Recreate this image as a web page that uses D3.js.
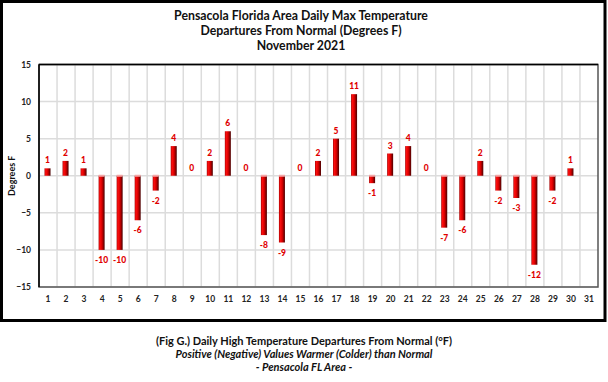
<!DOCTYPE html>
<html>
<head>
<meta charset="utf-8">
<script src="https://cdn.jsdelivr.net/npm/d3@7"></script>
<style>
  body { margin: 0; background: #fff; }
  svg { display: block; font-family: Lato, "Open Sans", sans-serif; }
</style>
</head>
<body>
<svg id="chart" width="608" height="382"></svg>
<script>
// days of November 2021 (31 slots on the axis, day 31 empty)
const days = d3.range(1, 32).map(String);
// departures from normal, degrees F
const departures = [1, 2, 1, -10, -10, -6, -2, 4, 0, 2, 6, 0, -8, -9, 0, 2, 5, 11, -1, 3, 4, 0, -7, -6, 2, -2, -3, -12, -2, 1, null];
const yTicks = [15, 10, 5, 0, -5, -10, -15];
const titleLines = ["Pensacola Florida Area Daily Max Temperature", "Departures From Normal (Degrees F)", "November 2021"];
const captionLines = ["(Fig G.) Daily High Temperature Departures From Normal (°F)", "Positive (Negative) Values Warmer (Colder) than Normal", "- Pensacola FL Area -"];

const svg = d3.select("#chart");
const plot = { left: 39, right: 598, top: 64.5, bottom: 287 };

// 外框
svg.append("rect")
    .attr("x", 1.5).attr("y", 1.5)
    .attr("width", 603.5).attr("height", 319)
    .attr("fill", "none").attr("stroke", "#000").attr("stroke-width", 3);

// 标题
svg.append("g").selectAll("text")
    .data(titleLines)
    .join("text")
    .attr("x", 301).attr("y", (d, i) => 19.5 + i * 15)
    .attr("text-anchor", "middle")
    .attr("font-size", "12.3px").attr("font-weight", "bold")
    .attr("fill", "#111")
    .text(d => d);

const x = d3.scaleBand().domain(days).range([plot.left, plot.right]);
const y = d3.scaleLinear().domain([-15, 15]).range([plot.bottom, plot.top]);

// 网格线
svg.append("g").selectAll("line.v")
    .data(days.slice(1))
    .join("line")
    .attr("x1", d => x(d)).attr("x2", d => x(d))
    .attr("y1", plot.top).attr("y2", plot.bottom)
    .attr("stroke", "#dcdcdc").attr("stroke-width", 1.5);

svg.append("g").selectAll("line.h")
    .data(yTicks)
    .join("line")
    .attr("x1", plot.left).attr("x2", plot.right)
    .attr("y1", d => y(d)).attr("y2", d => y(d))
    .attr("stroke", "#dcdcdc").attr("stroke-width", 1.5);

// plot border
svg.append("rect")
    .attr("x", plot.left).attr("y", plot.top)
    .attr("width", plot.right - plot.left).attr("height", plot.bottom - plot.top)
    .attr("fill", "none").attr("stroke", "#555").attr("stroke-width", 1.5);
svg.append("line")
    .attr("x1", plot.left).attr("x2", plot.left)
    .attr("y1", plot.top).attr("y2", plot.bottom)
    .attr("stroke", "#000").attr("stroke-width", 1.5);
svg.append("line")
    .attr("x1", plot.left).attr("x2", plot.right)
    .attr("y1", plot.top).attr("y2", plot.top)
    .attr("stroke", "#000").attr("stroke-width", 1.5);

// 坐标轴
const yAxis = svg.append("g")
    .attr("transform", `translate(${plot.left - 8},0)`)
    .call(d3.axisLeft(y).tickValues(yTicks).tickSize(0).tickPadding(0));
yAxis.select(".domain").remove();
yAxis.selectAll("text")
    .attr("font-family", "Lato, sans-serif")
    .attr("font-size", "8.5px").attr("font-weight", "bold").attr("fill", "#222");

const xAxis = svg.append("g")
    .attr("transform", `translate(0,${plot.bottom + 9})`)
    .call(d3.axisBottom(x).tickSize(0).tickPadding(0));
xAxis.select(".domain").remove();
xAxis.selectAll("text")
    .attr("font-family", "Lato, sans-serif")
    .attr("font-size", "8.5px").attr("font-weight", "bold").attr("fill", "#222");

svg.append("text")
    .attr("transform", `translate(15,${y(0)}) rotate(-90)`)
    .attr("text-anchor", "middle")
    .attr("font-size", "9px").attr("font-weight", "bold").attr("fill", "#111")
    .text("Degrees F");

// bar gradient
const grad = svg.append("defs").append("linearGradient").attr("id", "barGrad");
grad.append("stop").attr("offset", "0%").attr("stop-color", "#a00000");
grad.append("stop").attr("offset", "20%").attr("stop-color", "#ff1010");
grad.append("stop").attr("offset", "55%").attr("stop-color", "#d80000");
grad.append("stop").attr("offset", "100%").attr("stop-color", "#4a0000");

const data = days.map((d, i) => ({ day: d, v: departures[i] })).filter(d => d.v !== null);
const barW = 6;
const bx = d => x(d.day) + x.bandwidth() / 2 - barW / 2 - 0.5;

svg.append("g").selectAll("rect")
    .data(data.filter(d => d.v !== 0))
    .join("rect")
    .attr("x", bx)
    .attr("y", d => y(Math.max(0, d.v)))
    .attr("width", barW)
    .attr("height", d => Math.abs(y(d.v) - y(0)))
    .attr("fill", "url(#barGrad)");

// pink cap on negative bars
svg.append("g").selectAll("rect")
    .data(data.filter(d => d.v < 0))
    .join("rect")
    .attr("x", bx).attr("y", y(0) - 1)
    .attr("width", barW).attr("height", 2)
    .attr("fill", "#f4a6a6");

// 数值标签
svg.append("g").selectAll("text")
    .data(data)
    .join("text")
    .attr("x", d => x(d.day) + x.bandwidth() / 2 - 0.5)
    .attr("y", d => d.v < 0 ? y(d.v) + 13 : y(d.v) - 5)
    .attr("text-anchor", "middle")
    .attr("font-family", "Lato, sans-serif")
    .attr("font-size", "8.5px").attr("font-weight", "900").attr("fill", "#e00000")
    .text(d => d.v);

// 图注
svg.append("g").selectAll("text")
    .data(captionLines)
    .join("text")
    .attr("x", 304).attr("y", (d, i) => 344.5 + i * 13.3)
    .attr("text-anchor", "middle")
    .attr("font-size", "11px").attr("font-weight", "bold")
    .attr("font-style", (d, i) => i === 0 ? "normal" : "italic")
    .attr("fill", "#111")
    .text(d => d);
</script>
</body>
</html>
